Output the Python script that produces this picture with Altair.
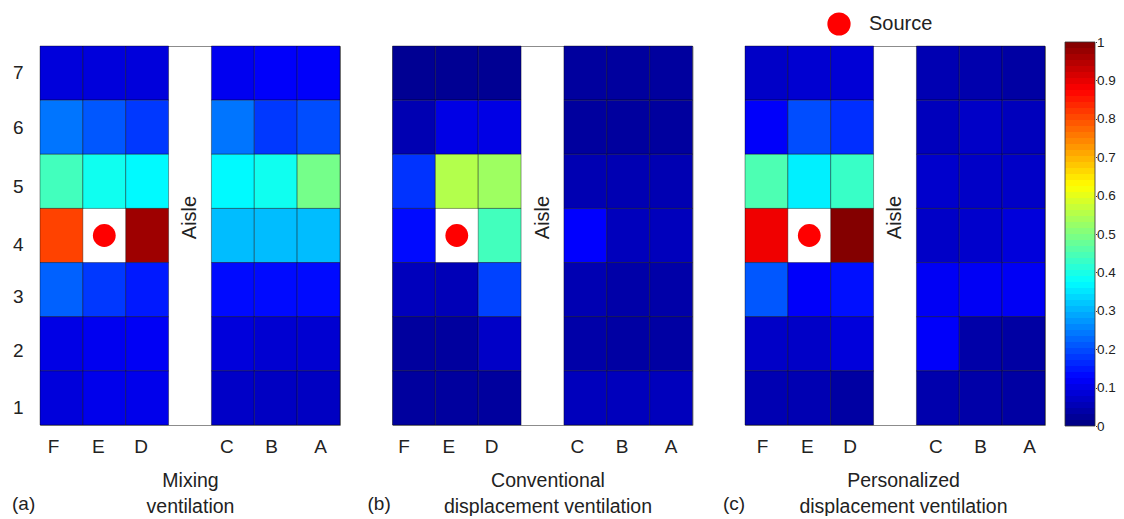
import altair as alt
import pandas as pd

columns = ["F", "E", "D", "Aisle", "C", "B", "A"]
seat_columns = ["F", "E", "D", "C", "B", "A"]
rows = ["7", "6", "5", "4", "3", "2", "1"]

# values per row (top to bottom), seat columns F E D C B A; None = source seat
mixing = [
    [.09, .09, .09, .11, .12, .12],
    [.24, .21, .18, .24, .18, .20],
    [.44, .39, .37, .37, .39, .49],
    [.81, None, .97, .31, .31, .31],
    [.22, .18, .15, .135, .135, .135],
    [.10, .11, .115, .09, .08, .08],
    [.09, .105, .105, .07, .065, .065],
]
conventional = [
    [.02, .02, .02, .03, .03, .03],
    [.05, .10, .10, .03, .03, .03],
    [.175, .55, .53, .05, .05, .05],
    [.135, None, .44, .125, .06, .06],
    [.06, .055, .19, .05, .04, .04],
    [.03, .03, .07, .04, .035, .035],
    [.03, .03, .03, .06, .06, .06],
]
personalized = [
    [.07, .08, .085, .05, .045, .035],
    [.12, .20, .17, .06, .07, .06],
    [.45, .36, .43, .075, .07, .07],
    [.89, None, .995, .07, .075, .09],
    [.21, .12, .14, .115, .115, .115],
    [.07, .07, .09, .12, .04, .035],
    [.05, .05, .035, .045, .04, .035],
]
colorbar_levels = [i / 64 for i in range(64)]
colorbar_ticks = [i / 10 for i in range(11)]

JET = alt.Scale(
    domain=[0, 0.125, 0.375, 0.625, 0.875, 1],
    range=["#00007f", "#0000ff", "#00ffff", "#ffff00", "#ff0000", "#7f0000"],
    interpolate="rgb",
)
FONT = "Liberation Sans"
INK = "#222222"


def cells(table):
    recs = []
    for r, vals in zip(rows, table):
        for c, v in zip(seat_columns, vals):
            if v is not None:
                recs.append({"col": c, "row": r, "value": v})
    return pd.DataFrame(recs)


def panel(table, title, title_x, base, tag, tag_x, with_y=False, extra=None):
    letter = f"{base}+({{F:-2,E:0,D:0,C:0,B:2,A:8}})[datum.value]"
    x = alt.X(
        "col:N",
        scale=alt.Scale(domain=columns, paddingInner=0, paddingOuter=0),
        axis=alt.Axis(
            values=seat_columns, labelAngle=0, ticks=False, domain=False, grid=False,
            labelFontSize=19, labelColor=INK, labelPadding=12, labelBaseline="top",
            labelOffset=alt.expr(letter),
            title=title, titleFontSize=19.5, titleFontWeight="normal", titleColor=INK,
            titleX=title_x, titleY=55, titleLineHeight=26, titleBaseline="middle",
            titleAlign="center",
        ),
    )
    if with_y:
        yaxis = alt.Axis(
            ticks=False, domain=False, grid=False, labelFontSize=19, labelColor=INK,
            labelPadding=17, title=None,
            labelOffset=alt.expr("({'7':0,'6':1,'5':6,'4':9,'3':7,'2':7,'1':10})[datum.value]"),
        )
    else:
        yaxis = None
    y = alt.Y("row:N", scale=alt.Scale(domain=rows, paddingInner=0, paddingOuter=0), axis=yaxis)

    heat = alt.Chart(cells(table)).mark_rect(stroke="#000000", strokeWidth=0.7, strokeOpacity=0.55).encode(
        x=x, y=y, color=alt.Color("value:Q", scale=JET, legend=None)
    )
    source = alt.Chart(pd.DataFrame({"col": ["E"], "row": ["4"]})).mark_point(
        filled=True, color="#ff0000", size=520, opacity=1
    ).encode(x=alt.X("col:N"), y=alt.Y("row:N"))
    aisle = alt.Chart(pd.DataFrame({"col": ["Aisle"], "row": ["4"], "t": ["Aisle"]})).mark_text(
        angle=270, fontSize=20, color=INK, dy=0, dx=18
    ).encode(x=alt.X("col:N"), y=alt.Y("row:N"), text="t:N")
    tag_mark = alt.Chart(pd.DataFrame({"t": [tag]})).mark_text(
        fontSize=19, color=INK, align="left", baseline="middle"
    ).encode(x=alt.value(tag_x), y=alt.value(458), text="t:N")
    parts = [heat, source, aisle, tag_mark] + (extra or [])
    return alt.layer(*parts).properties(width=300, height=379)


source_dot = alt.Chart(pd.DataFrame({"t": ["Source"]})).mark_point(
    filled=True, color="#ff0000", size=540, opacity=1
).encode(x=alt.value(94), y=alt.value(-22))
source_text = alt.Chart(pd.DataFrame({"t": ["Source"]})).mark_text(
    fontSize=20, color=INK, align="left", baseline="middle"
).encode(x=alt.value(124), y=alt.value(-22), text="t:N")

a = panel(mixing, ["Mixing", "ventilation"], 150, -6, "(a)", -28, with_y=True)
b = panel(conventional, ["Conventional", "displacement ventilation"], 155, -8, "(b)", -25)
c = panel(personalized, ["Personalized", "displacement ventilation"], 158, -2, "(c)", -22,
          extra=[source_dot, source_text])

bar_df = pd.DataFrame({"lo": colorbar_levels})
bar_df["hi"] = bar_df["lo"] + 1 / 64
bar_df["mid"] = bar_df["lo"] + 1 / 128
bar_y = alt.Y(
    "lo:Q",
    scale=alt.Scale(domain=[0, 1], range=[380, -4], nice=False, zero=False),
    axis=alt.Axis(
        orient="right", values=colorbar_ticks, format="~g", grid=False, domain=False,
        tickSize=1, tickColor="#333333", labelFontSize=13.5, labelColor=INK, labelPadding=0,
        labelOverlap=False, labelBound=False, labelFlush=False, title=None, offset=-3,
    ),
)
bar = alt.Chart(bar_df).mark_rect().encode(
    x=alt.value(-32.5), x2=alt.value(-2.5),
    y=bar_y, y2="hi:Q", color=alt.Color("mid:Q", scale=JET, legend=None)
)
frame = alt.Chart(pd.DataFrame({"lo": [0.0], "hi": [1.0]})).mark_rect(
    fillOpacity=0, stroke="#333333", strokeWidth=0.8
).encode(x=alt.value(-32.5), x2=alt.value(-2.5), y=bar_y, y2="hi:Q")
colorbar = alt.layer(bar, frame).properties(width=1, height=379, view=alt.ViewConfig(stroke=None))

chart = (
    alt.hconcat(a, b, c, colorbar, spacing=52.5, bounds="flush")
    .properties(padding={"left": 3, "top": 3, "right": 0, "bottom": 0})
    .configure(font=FONT)
    .configure_view(stroke="#8c8c8c", strokeWidth=1)
)
chart.save("out.html", embed_options={"renderer": "svg", "actions": False})
